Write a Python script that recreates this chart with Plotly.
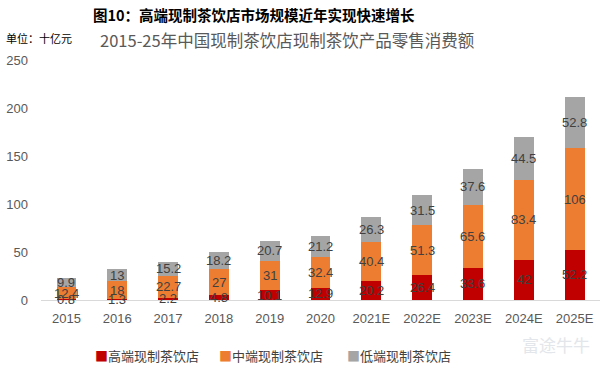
import plotly.graph_objects as go

categories = ["2015", "2016", "2017", "2018", "2019", "2020", "2021E", "2022E", "2023E", "2024E", "2025E"]
high_end = [0.8, 1.3, 2.2, 4.8, 10.1, 12.9, 20.2, 26.4, 33.6, 42, 52.2]
mid_end = [12.4, 18, 22.7, 27, 31, 32.4, 40.4, 51.3, 65.6, 83.4, 106]
low_end = [9.9, 13, 15.2, 18.2, 20.7, 21.2, 26.3, 31.5, 37.6, 44.5, 52.8]
series_names = ["高端现制茶饮店", "中端现制茶饮店", "低端现制茶饮店"]
colors = ["#C00000", "#ED7D31", "#A5A5A5"]

num_font = "Liberation Sans, Arial, sans-serif"
cjk_font = "Noto Sans CJK SC, sans-serif"

fig = go.Figure()
series = [high_end, mid_end, low_end]
for name, vals, col in zip(series_names, series, colors):
    fig.add_trace(go.Bar(
        x=categories, y=vals, name=name, showlegend=False,
        marker=dict(color=col, line=dict(width=0)),
    ))

# data labels centred in each stacked segment (x given as category index)
base = [0.0] * len(categories)
for vals in series:
    for i, v in enumerate(vals):
        fig.add_annotation(x=i, y=base[i] + v / 2, text="%g" % v,
                           showarrow=False, xanchor="center", yanchor="middle",
                           font=dict(family=num_font, size=13, color="#404040"))
        base[i] += v

fig.update_layout(
    barmode="stack", bargap=0.61,
    width=600, height=372,
    margin=dict(l=41, r=0, t=60, b=72),
    paper_bgcolor="white", plot_bgcolor="white",
    showlegend=False,
    xaxis=dict(type="category", range=[-0.5, 10.5], showline=True, linecolor="#D9D9D9", linewidth=1,
               ticks="", tickfont=dict(family=num_font, size=13, color="#595959"),
               showgrid=False, ticklabelstandoff=6, automargin=False),
    yaxis=dict(range=[0, 250], dtick=50, showgrid=False, zeroline=False, showline=False,
               tickfont=dict(family=num_font, size=13, color="#595959"),
               ticklabelstandoff=12, automargin=False),
    font=dict(family=cjk_font),
)

def px_x(x):
    return (x - 41) / 559

def px_y(y):
    return (300 - y) / 240

fig.add_annotation(text="<b>图10：高端现制茶饮店市场规模近年实现快速增长</b>",
                   xref="paper", yref="paper", x=px_x(91), y=px_y(14),
                   xanchor="left", yanchor="middle", showarrow=False,
                   font=dict(family=cjk_font, size=14.5, color="#000000"))
fig.add_annotation(text="单位：十亿元", xref="paper", yref="paper",
                   x=px_x(4), y=px_y(38), xanchor="left", yanchor="middle",
                   showarrow=False, font=dict(family=cjk_font, size=11, color="#000000"))
fig.add_annotation(text="2015-25年中国现制茶饮店现制茶饮产品零售消费额", xref="paper", yref="paper",
                   x=px_x(98), y=px_y(40), xanchor="left", yanchor="middle",
                   showarrow=False, font=dict(family=cjk_font, size=16.5, color="#595959"))

# legend
legend_x = [93, 217, 345]
for name, col, lx in zip(series_names, colors, legend_x):
    fig.add_annotation(text="<span style='color:%s'>■</span>%s" % (col, name),
                       xref="paper", yref="paper", x=px_x(lx), y=px_y(355),
                       xanchor="left", yanchor="middle", showarrow=False,
                       font=dict(family=cjk_font, size=13, color="#404040"))

fig.add_annotation(text="富途牛牛", xref="paper", yref="paper",
                   x=px_x(592), y=px_y(344), xanchor="right", yanchor="middle",
                   showarrow=False, font=dict(family=cjk_font, size=17, color="#E3E6EA"))

fig.write_html("out.html", config={"displayModeBar": False},
               post_script="document.body.style.margin='0';")
